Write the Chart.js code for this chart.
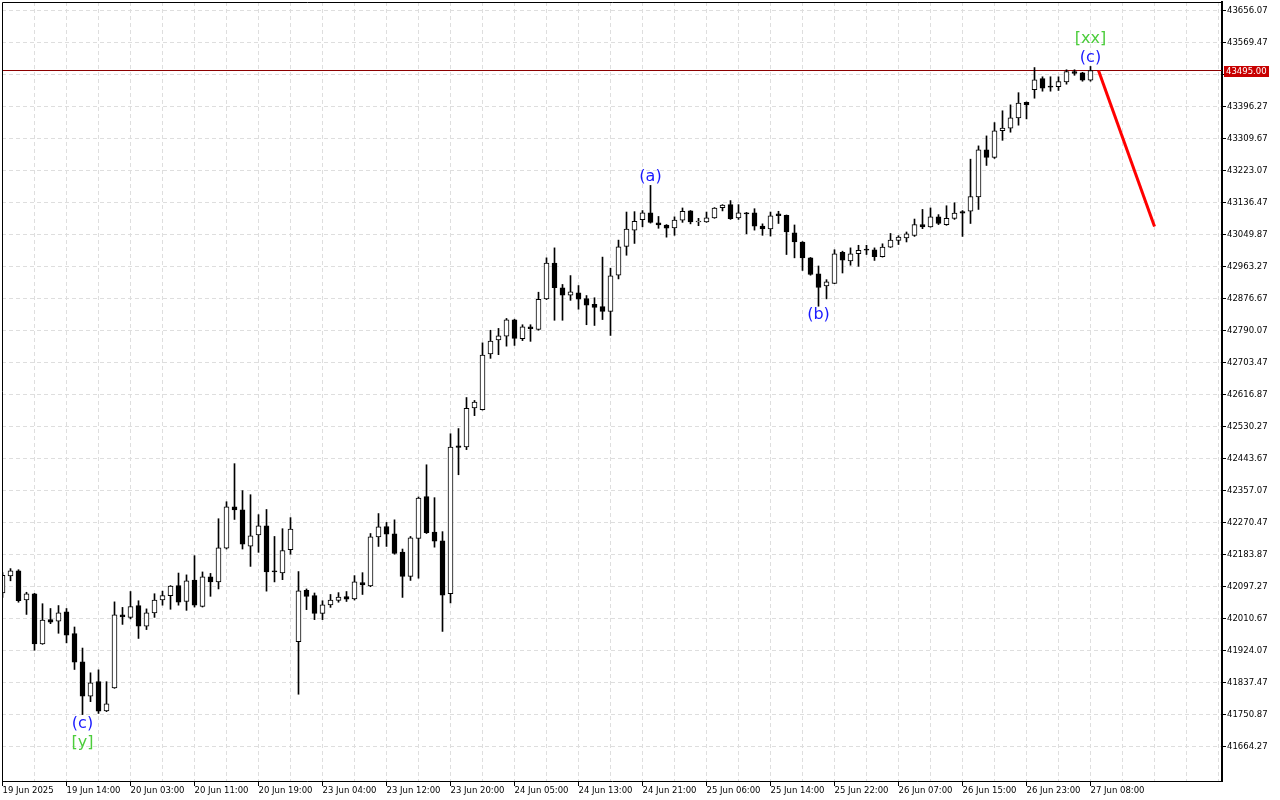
<!DOCTYPE html>
<html lang="en">
<head>
  <meta charset="UTF-8">
  <title>H1 chart - wave count</title>
  <script src="https://cdn.jsdelivr.net/npm/chart.js@4"></script>
  <style>
    html, body { margin: 0; padding: 0; background: #fff; }
    canvas { display: block; }
  </style>
</head>
<body>
  <canvas id="myChart" width="1280" height="800"></canvas>

  <script>
    // time labels, one under every 8th candle
    const timeLabels = ['19 Jun 2025', '19 Jun 14:00', '20 Jun 03:00', '20 Jun 11:00', '20 Jun 19:00',
      '23 Jun 04:00', '23 Jun 12:00', '23 Jun 20:00', '24 Jun 05:00', '24 Jun 13:00', '24 Jun 21:00',
      '25 Jun 06:00', '25 Jun 14:00', '25 Jun 22:00', '26 Jun 07:00', '26 Jun 15:00', '26 Jun 23:00',
      '27 Jun 08:00'];

    // price scale labels
    const priceTicks = [41664.27, 41750.87, 41837.47, 41924.07, 42010.67, 42097.27, 42183.87, 42270.47,
      42357.07, 42443.67, 42530.27, 42616.87, 42703.47, 42790.07, 42876.67, 42963.27, 43049.87,
      43136.47, 43223.07, 43309.67, 43396.27, 43482.87, 43569.47, 43656.07];

    // candles
    const opens = [
      42081, 42127, 42141, 42062, 42079, 41943, 42009, 42005, 42030, 41971,
      41895, 41802, 41841, 41762, 41824, 42022, 42015, 42047, 41991, 42027,
      42062, 42074, 42101, 42058, 42116, 42045, 42125, 42111, 42202, 42314,
      42306, 42208, 42238, 42263, 42139, 42135, 42198, 41949, 42088, 42074,
      42026, 42049, 42061, 42071, 42065, 42109, 42100, 42233, 42261, 42241,
      42192, 42126, 42229, 42342, 42246, 42222, 42079, 42479, 42476, 42582,
      42577, 42728, 42766, 42776, 42820, 42769, 42801, 42794, 42877, 42974,
      42907, 42887, 42893, 42878, 42862, 42856, 42843, 42941, 43019, 43063,
      43091, 43110, 43083, 43077, 43069, 43090, 43115, 43085, 43085, 43096,
      43124, 43132, 43096, 43110, 43110, 43074, 43066, 43107, 43103, 43056,
      43031, 42988, 42945, 42912, 42919, 43003, 42980, 42999, 43010, 43010,
      42991, 43017, 43035, 43042, 43049, 43078, 43072, 43099, 43078, 43095,
      43113, 43114, 43153, 43280, 43260, 43332, 43339, 43367, 43409, 43443,
      43473, 43451, 43451, 43464, 43492, 43489, 43469];
    const highs = [
      42136, 42147, 42144, 42083, 42080, 42052, 42039, 42047, 42039, 41989,
      41932, 41865, 41873, 41841, 42057, 42042, 42085, 42060, 42038, 42079,
      42086, 42101, 42135, 42130, 42182, 42138, 42134, 42282, 42328, 42431,
      42358, 42347, 42293, 42307, 42234, 42255, 42285, 42139, 42092, 42081,
      42060, 42077, 42082, 42085, 42128, 42136, 42242, 42296, 42272, 42279,
      42200, 42234, 42341, 42428, 42339, 42247, 42512, 42526, 42610, 42602,
      42758, 42792, 42797, 42824, 42822, 42807, 42807, 42895, 42988, 43015,
      42916, 42940, 42913, 42886, 42880, 42990, 42960, 43036, 43112, 43113,
      43116, 43184, 43100, 43078, 43099, 43123, 43116, 43095, 43112, 43124,
      43132, 43143, 43132, 43111, 43121, 43080, 43112, 43114, 43104, 43077,
      43032, 42989, 42966, 42929, 43010, 43006, 43015, 43022, 43022, 43015,
      43026, 43054, 43048, 43058, 43093, 43119, 43123, 43105, 43129, 43137,
      43116, 43255, 43291, 43318, 43354, 43386, 43402, 43435, 43410, 43503,
      43478, 43478, 43478, 43497, 43497, 43490, 43506];
    const lows = [
      42069, 42114, 42056, 42023, 41926, 41942, 41998, 41972, 41946, 41874,
      41752, 41787, 41755, 41760, 41823, 41996, 42011, 41958, 41982, 42015,
      42048, 42037, 42048, 42034, 42043, 42043, 42072, 42092, 42200, 42280,
      42200, 42153, 42191, 42086, 42111, 42117, 42186, 41807, 42036, 42009,
      42009, 42042, 42056, 42058, 42062, 42077, 42098, 42207, 42207, 42186,
      42069, 42115, 42121, 42242, 42205, 41977, 42054, 42401, 42469, 42561,
      42576, 42716, 42726, 42749, 42751, 42764, 42762, 42792, 42875, 42819,
      42819, 42873, 42849, 42807, 42805, 42821, 42778, 42931, 42995, 43027,
      43072, 43082, 43068, 43044, 43049, 43084, 43080, 43075, 43084, 43095,
      43115, 43092, 43092, 43053, 43063, 43049, 43047, 43081, 42997, 42988,
      42954, 42941, 42857, 42877, 42918, 42947, 42968, 42965, 42997, 42981,
      42990, 43016, 43024, 43031, 43046, 43067, 43071, 43078, 43076, 43092,
      43046, 43081, 43119, 43238, 43257, 43306, 43328, 43347, 43364, 43420,
      43439, 43439, 43441, 43458, 43482, 43466, 43466];
    const closes = [
      42129, 42141, 42060, 42079, 41943, 42008, 42002, 42027, 41967, 41894,
      41802, 41838, 41761, 41781, 42022, 42016, 42044, 41991, 42027, 42062,
      42074, 42100, 42056, 42114, 42048, 42125, 42111, 42203, 42314, 42306,
      42213, 42236, 42263, 42138, 42138, 42196, 42254, 42087, 42072, 42026,
      42049, 42062, 42070, 42064, 42111, 42103, 42233, 42260, 42240, 42188,
      42126, 42230, 42338, 42244, 42221, 42075, 42476, 42475, 42581, 42598,
      42725, 42763, 42777, 42820, 42770, 42801, 42796, 42876, 42974, 42907,
      42887, 42896, 42876, 42860, 42854, 42843, 42939, 43018, 43066, 43087,
      43110, 43084, 43077, 43068, 43090, 43114, 43085, 43085, 43096, 43123,
      43131, 43094, 43110, 43107, 43074, 43066, 43102, 43102, 43058, 43031,
      42988, 42943, 42908, 42923, 42999, 42982, 42999, 43008, 43009, 42991,
      43017, 43036, 43044, 43053, 43078, 43072, 43099, 43081, 43095, 43109,
      43109, 43154, 43280, 43260, 43332, 43339, 43367, 43407, 43402, 43470,
      43447, 43450, 43465, 43492, 43487, 43469, 43495];

    const lastPrice = 43495.00;

    // red forecast segment (bar index -> price)
    const forecastBars = [137, 144];
    const forecastPrices = [43495, 43073];

    // wave marks
    const waveTexts = ['(c)', '[y]', '(a)', '(b)', '(c)', '[xx]'];
    const waveBars = [10, 10, 81, 102, 136, 136];
    const waveSides = ['low', 'low', 'high', 'low', 'high', 'high'];
    const waveDegrees = ['minor', 'inter', 'minor', 'minor', 'minor', 'inter'];

    // visible range of the window
    const xMin = -0.0625, xMax = 152.4375;
    const yMin = 41572.21, yMax = 43680.38;

    const axisFont = { family: '"DejaVu Sans"', size: 8.5 };
    const gridColor = '#dedede';

    // wave letters, frame and the last price tag
    const chartDecor = {
      id: 'chartDecor',
      afterDatasetsDraw(chart) {
        const { ctx, scales: { x, y } } = chart;
        ctx.save();
        ctx.font = '16px "DejaVu Sans"';
        ctx.textAlign = 'center';
        ctx.textBaseline = 'middle';
        waveTexts.forEach((txt, k) => {
          const i = waveBars[k];
          const outer = waveDegrees[k] === 'inter';
          const gap = outer ? 28 : 9;
          const px = x.getPixelForValue(i);
          const py = waveSides[k] === 'high'
            ? y.getPixelForValue(highs[i]) - gap
            : y.getPixelForValue(lows[i]) + gap;
          ctx.fillStyle = outer ? '#4ccd3c' : '#1a1aff';
          ctx.fillText(txt, px, py);
        });
        ctx.restore();
      },
      afterDraw(chart) {
        const { ctx, chartArea: a, scales: { y } } = chart;
        ctx.save();
        ctx.strokeStyle = '#000';
        ctx.lineWidth = 1;
        ctx.beginPath();
        ctx.moveTo(a.left + 0.5, a.bottom);
        ctx.lineTo(a.left + 0.5, a.top + 0.5);
        ctx.lineTo(a.right, a.top + 0.5);
        ctx.stroke();

        const py = Math.round(y.getPixelForValue(lastPrice));
        ctx.fillStyle = '#c80000';
        ctx.fillRect(a.right + 2, py - 5, 45, 11);
        ctx.fillStyle = '#fff';
        ctx.font = '8.5px "DejaVu Sans"';
        ctx.textBaseline = 'middle';
        ctx.textAlign = 'left';
        ctx.fillText(lastPrice.toFixed(2), a.right + 4, py + 0.5);
        ctx.restore();
      }
    };

    const bodies = opens.map((o, i) => ({ x: i, y: [o, closes[i]] }));
    const wicks = lows.map((l, i) => ({ x: i, y: [l, highs[i]] }));
    const bodyColors = opens.map((o, i) => closes[i] >= o ? '#ffffff' : '#000000');

    const ctx = document.getElementById('myChart').getContext('2d');
    const myChart = new Chart(ctx, {
      type: 'bar',
      data: {
        datasets: [
          {
            label: 'forecast',
            type: 'line',
            data: forecastBars.map((b, k) => ({ x: b, y: forecastPrices[k] })),
            borderColor: '#ff0000',
            borderWidth: 3,
            pointRadius: 0,
            order: -1
          },
          {
            label: 'body',
            data: bodies,
            backgroundColor: bodyColors,
            borderColor: '#000',
            borderWidth: 1,
            borderSkipped: false,
            barThickness: 5,
            minBarLength: 1,
            grouped: false,
            order: 0
          },
          {
            label: 'wick',
            data: wicks,
            backgroundColor: '#000',
            borderWidth: 0,
            barThickness: 1,
            grouped: false,
            order: 1
          },
          {
            label: 'last',
            type: 'line',
            data: [{ x: xMin, y: lastPrice }, { x: xMax, y: lastPrice }],
            borderColor: '#8c0000',
            borderWidth: 1,
            pointRadius: 0,
            order: 2
          }
        ]
      },
      options: {
        responsive: false,
        animation: false,
        layout: { padding: { left: 2, top: 2, right: 0, bottom: 0 } },
        plugins: {
          legend: { display: false },
          tooltip: { enabled: false }
        },
        scales: {
          x: {
            type: 'linear',
            min: xMin,
            max: xMax,
            offset: false,
            grid: {
              offset: false,
              color: gridColor,
              tickLength: 5,
              tickColor: (c) => (c.tick && c.tick.value % 8 === 0 && c.tick.value / 8 < timeLabels.length) ? '#000' : 'rgba(0,0,0,0)'
            },
            border: { display: true, color: '#000', width: 1, dash: [4, 3] },
            ticks: {
              autoSkip: false,
              maxRotation: 0,
              align: 'start',
              padding: 0,
              color: '#000',
              font: axisFont,
              callback: (v) => (v % 8 === 0 && v / 8 < timeLabels.length) ? timeLabels[v / 8] : ''
            },
            afterBuildTicks: (axis) => {
              const t = [];
              for (let v = 0; v <= 152; v += 4) t.push({ value: v });
              axis.ticks = t;
            },
            afterFit: (scale) => {
              scale.height = 19;
              scale.paddingLeft = 0;
              scale.paddingRight = 0;
            }
          },
          y: {
            type: 'linear',
            position: 'right',
            min: yMin,
            max: yMax,
            grid: { color: gridColor, tickLength: 4, tickColor: '#000' },
            border: { display: true, color: '#000', width: 2, dash: [4, 3] },
            ticks: {
              padding: 1,
              color: '#000',
              font: axisFont,
              callback: (v) => Number(v).toFixed(2)
            },
            afterBuildTicks: (axis) => {
              axis.ticks = priceTicks.map((v) => ({ value: v }));
            },
            afterFit: (scale) => {
              scale.width = 58;
              scale.paddingTop = 0;
              scale.paddingBottom = 0;
            }
          }
        }
      },
      plugins: [chartDecor]
    });
  </script>
</body>
</html>
